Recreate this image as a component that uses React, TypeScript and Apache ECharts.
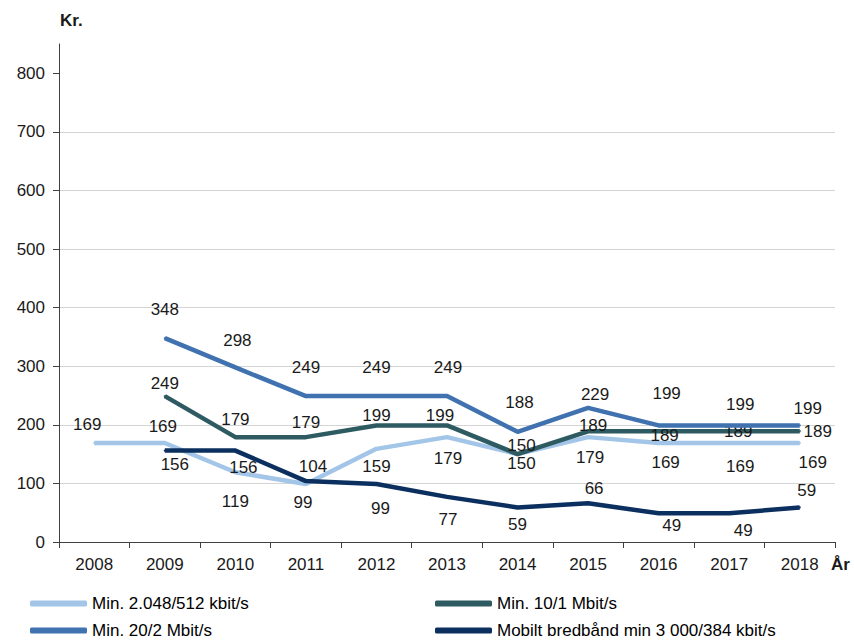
import React, { useEffect, useRef } from "react";
import * as echarts from "echarts";

const years = ["2008", "2009", "2010", "2011", "2012", "2013", "2014", "2015", "2016", "2017", "2018"];
const yTicks = [0, 100, 200, 300, 400, 500, 600, 700, 800];

const seriesNames = [
  "Min. 2.048/512 kbit/s",
  "Min. 10/1 Mbit/s",
  "Min. 20/2 Mbit/s",
  "Mobilt bredbånd min 3 000/384 kbit/s",
];

const min2048: (number | null)[] = [169, 169, 119, 99, 159, 179, 150, 179, 169, 169, 169];
const min10: (number | null)[] = [null, 249, 179, 179, 199, 199, 150, 189, 189, 189, 189];
const min20: (number | null)[] = [null, 348, 298, 249, 249, 249, 188, 229, 199, 199, 199];
const mobil: (number | null)[] = [null, 156, 156, 104, 99, 77, 59, 66, 49, 49, 59];

// label placement (pixel offsets of label centre from the point)
const labelDx = [
  [-7, -2, 0, -3, 0, 1, 4, 2, 7, 11, 13],
  [0, 0, 0, 0, 0, -7, 4, 5, 6, 9, 18],
  [0, 0, 2, 0, 0, 1, 2, 7, 8, 11, 8],
  [0, 10, 8, 7, 4, 1, 0, 6, 13, 14, 7],
];
const labelDy = [
  [-18, -16, 29, 19, 18, 21, 9, 20, 20, 24, 20],
  [0, -13, -18, -15, -10, -10, -9, -6, 4, 0, 0],
  [0, -29, -27, -29, -29, -29, -29, -13, -32, -21, -17],
  [0, 14, 17, -15, 25, 23, 17, -15, 12, 17, -17],
];

const colors = ["#a3c6e8", "#2e5a61", "#3f72af", "#0b3060"];

export default function App() {
  const ref = useRef<HTMLDivElement>(null);
  useEffect(() => {
    if (!ref.current) return;
    const chart = echarts.init(ref.current, undefined, { renderer: "svg" });
    const all = [min2048, min10, min20, mobil];
    const font = "'Liberation Sans', Arial, sans-serif";
    const series = all.map((vals, si) => ({
      name: seriesNames[si],
      type: "line",
      data: vals.map((v, i) =>
        v === null
          ? null
          : {
              value: v,
              label: { offset: [labelDx[si][i], labelDy[si][i]] },
            }
      ),
      symbol: "circle",
      symbolSize: 2,
      itemStyle: { color: colors[si] },
      lineStyle: { color: colors[si], width: 4.5 },
      connectNulls: false,
      label: {
        show: true,
        position: "inside",
        color: "#1a1a1a",
        fontSize: 17,
        fontFamily: font,
      },
      z: 2 + si,
    }));
    const legendPos = [
      { left: 30, top: 595 },
      { left: 435, top: 595 },
      { left: 30, top: 622 },
      { left: 435, top: 622 },
    ];
    const legends = seriesNames.map((n, i) => ({
      data: [n],
      left: legendPos[i].left,
      top: legendPos[i].top,
      icon: "roundRect",
      itemWidth: 57,
      itemHeight: 6,
      padding: 0,
      textStyle: { fontFamily: font, fontSize: 17, color: "#000" },
      selectedMode: false,
    }));
    chart.setOption({
      animation: false,
      grid: { left: 59, right: 19, top: 44, bottom: 101 },
      legend: legends,
      xAxis: {
        type: "category",
        data: years,
        boundaryGap: true,
        axisLine: { lineStyle: { color: "#404040", width: 1 } },
        axisTick: { show: true, length: 6, lineStyle: { color: "#404040" } },
        axisLabel: { color: "#1a1a1a", fontSize: 17, fontFamily: font, margin: 14 },
      },
      yAxis: {
        type: "value",
        min: 0,
        max: 850,
        interval: 100,
        axisLine: { show: true, lineStyle: { color: "#404040", width: 1 } },
        axisTick: { show: true, length: 6, customValues: yTicks, lineStyle: { color: "#404040" } },
        axisLabel: {
          color: "#1a1a1a",
          fontSize: 17,
          fontFamily: font,
          margin: 14,
          customValues: yTicks,
        },
        splitLine: { show: true, showMaxLine: false, lineStyle: { color: "#d4d4d4", width: 1 } },
      },
      graphic: [
        {
          type: "text",
          left: 60,
          top: 12,
          style: { text: "Kr.", fontSize: 17, fontWeight: "bold", fontFamily: font, fill: "#1a1a1a" },
        },
        {
          type: "text",
          left: 831,
          top: 556,
          style: { text: "År", fontSize: 17, fontWeight: "bold", fontFamily: font, fill: "#1a1a1a" },
        },
      ],
      series,
    });
    return () => chart.dispose();
  }, []);
  return (
    <div
      ref={ref}
      style={{ position: "fixed", left: 0, top: 0, width: 854, height: 643, background: "#fff" }}
    />
  );
}
